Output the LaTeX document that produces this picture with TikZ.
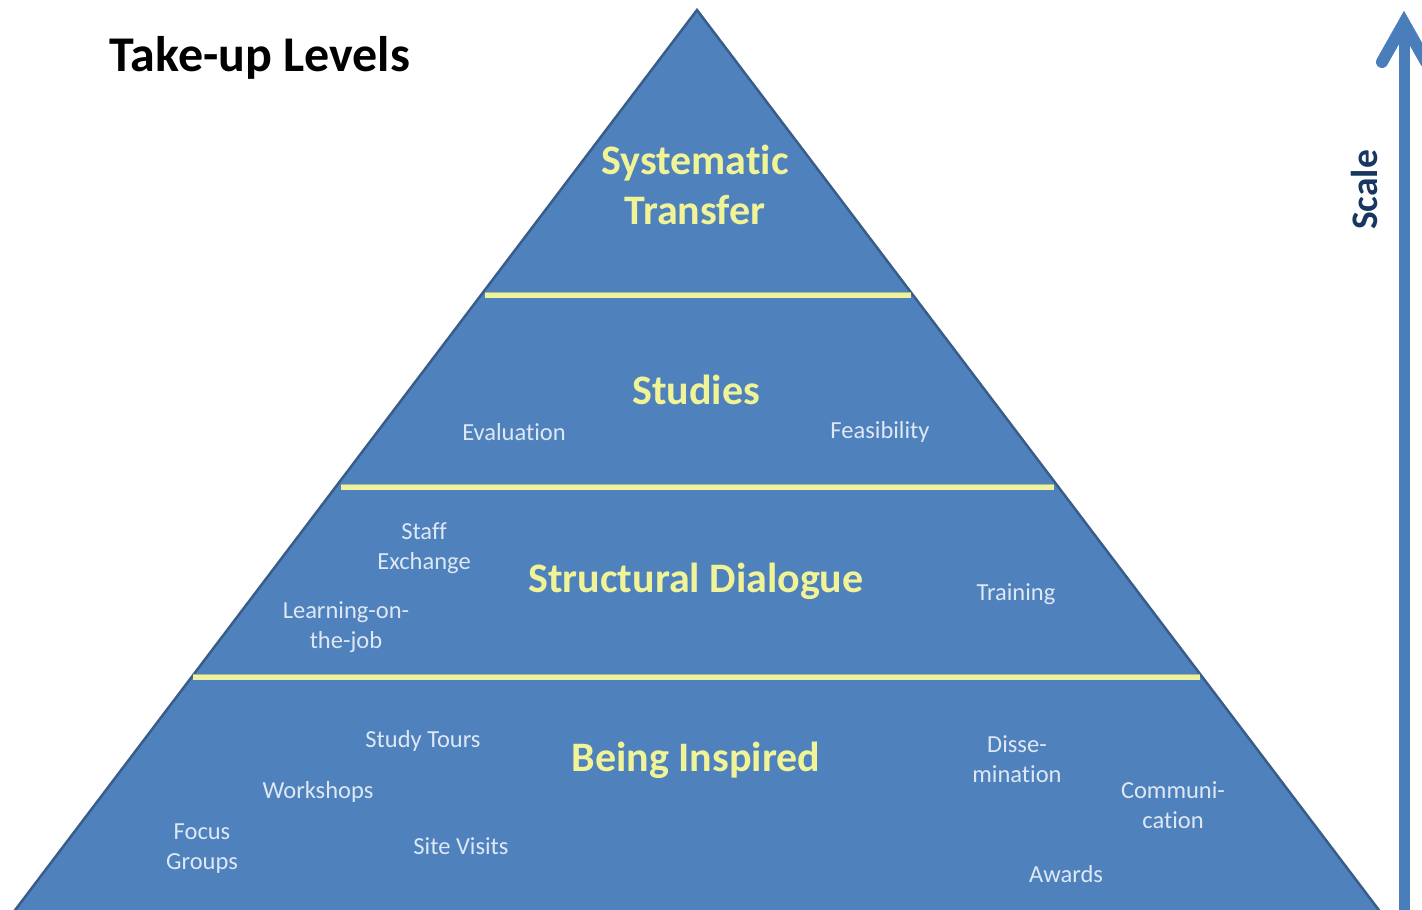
\documentclass[tikz,border=0pt]{standalone}
\usepackage{fontspec}
\setmainfont[Ligatures={NoCommon,NoContextual,NoRequired},Contextuals=NoAlternate]{Carlito}
\definecolor{pyrfill}{RGB}{79,129,189}
\definecolor{pyredge}{RGB}{56,93,138}
\definecolor{divfill}{RGB}{238,243,160}
\definecolor{divedge}{RGB}{170,185,140}
\definecolor{bigtxt}{RGB}{240,244,150}
\definecolor{smalltxt}{RGB}{222,232,245}
\definecolor{scaletxt}{RGB}{23,55,94}
\definecolor{arrowcol}{RGB}{74,126,187}
\begin{document}
\begin{tikzpicture}[x=1pt,y=-1pt,
  bigtitle/.style={font=\fontsize{42}{50}\selectfont\bfseries,text=bigtxt,align=center,inner sep=0pt},
  smalllabel/.style={font=\fontsize{24.5}{30}\selectfont,text=smalltxt,align=center,inner sep=0pt},
  divider/.style={line width=6.5pt,draw=divedge},
  dividerin/.style={line width=5pt,draw=divfill},
]
\useasboundingbox (0,0) rectangle (1422,910);
\begin{scope}
\clip (0,0) rectangle (1422,910);
% pyramid
\coordinate (apex) at (697,10);
\coordinate (bl) at (0,930);
\coordinate (br) at (1394,930);
\filldraw[fill=pyrfill,draw=pyredge,line width=2.5pt,line join=miter] (apex) -- (bl) -- (br) -- cycle;
% dividers
\foreach \y/\a/\b in {295/485/911, 487/341/1054, 677/193/1200}{
  \coordinate (dl\y) at (\a,\y);
  \coordinate (dr\y) at (\b,\y);
  \draw[divider] (dl\y) -- (dr\y);
  \draw[dividerin] (dl\y) -- (dr\y);
}
% arrow
\coordinate (ashaftb) at (1404,915);
\coordinate (ashaftt) at (1404,25);
\coordinate (aleft) at (1382,62);
\coordinate (atip) at (1404,23);
\coordinate (aright) at (1426,62);
\draw[arrowcol,line width=11pt] (ashaftb) -- (ashaftt);
\draw[arrowcol,line width=12pt,line cap=round,line join=miter] (aleft) -- (atip) -- (aright);
\end{scope}
% title
\node[font=\fontsize{50}{58}\selectfont\bfseries,text=black,inner sep=0pt] (title) at (260,58) {Take-up Levels};
\node[font=\fontsize{37.5}{44}\selectfont\bfseries,text=scaletxt,rotate=90,inner sep=0pt] (scale) at (1364,190) {Scale};
% level titles
\node[bigtitle] (systematic) at (695,185) {Systematic\\Transfer};
\node[bigtitle] (studies) at (696,390) {Studies};
\node[bigtitle] (structural) at (696,581) {Structural Dialogue};
\node[bigtitle] (inspired) at (696,760) {Being Inspired};
% labels
\node[smalllabel] (evaluation) at (514,432) {Evaluation};
\node[smalllabel] (feasibility) at (880,432) {Feasibility};
\node[smalllabel] (staff) at (424,548) {Staff\\Exchange};
\node[smalllabel] (learning) at (346,627) {Learning-on-\\the-job};
\node[smalllabel] (training) at (1016,594) {Training};
\node[smalllabel] (studytours) at (423,741) {Study Tours};
\node[smalllabel] (workshops) at (318,792) {Workshops};
\node[smalllabel] (focus) at (202,849) {Focus\\Groups};
\node[smalllabel] (sitevisits) at (461,846) {Site Visits};
\node[smalllabel] (dissemination) at (1017,759) {Disse-\\mination};
\node[smalllabel] (communication) at (1173,805) {Communi-\\cation};
\node[smalllabel] (awards) at (1066,874) {Awards};
\end{tikzpicture}
\end{document}
